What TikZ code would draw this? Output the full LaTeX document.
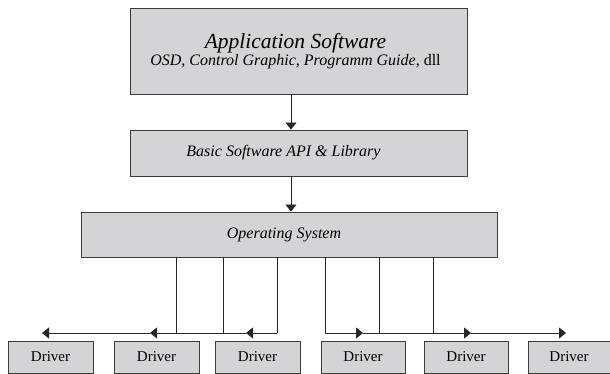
\documentclass[tikz,border=0pt]{standalone}
\usepackage{fontspec}
\setmainfont{Liberation Serif}
\usetikzlibrary{arrows.meta}
\definecolor{boxfill}{RGB}{212,212,214}
\definecolor{boxline}{RGB}{60,60,60}
\tikzset{
  layer/.style={draw=boxline, fill=boxfill, line width=0.9pt, inner sep=0pt, align=center},
  drv/.style={layer, minimum width=85pt, minimum height=32pt, font=\fontsize{15}{17}\selectfont},
  wire/.style={draw=black!85, line width=0.9pt},
  tip/.style={-{Triangle[length=7pt,width=11pt]}}
}
\begin{document}
\begin{tikzpicture}[x=1pt, y=-1pt]
  \useasboundingbox (0,0) rectangle (610,374);

  % software layers
  \node[layer, minimum width=337pt, minimum height=86pt] (app) at (298.5,51)
    {\fontsize{21.5}{24}\selectfont\itshape Application Software\hspace*{6pt}\\[0pt]
     \fontsize{16}{18}\selectfont\itshape OSD, Control Graphic, Programm Guide\upshape, dll\hspace*{6pt}};
  \node[layer, minimum width=337pt, minimum height=46pt, font=\fontsize{16}{18}\selectfont\itshape] (api) at (298.5,153)
    {Basic Software API \& Library\hspace*{30pt}};
  \node[layer, minimum width=416pt, minimum height=45pt, font=\fontsize{16}{18}\selectfont\itshape] (os) at (289,234.5)
    {Operating System\hspace*{10pt}};

  % drivers
  \node[drv] (d1) at (50.5,357) {Driver};
  \node[drv] (d2) at (156.5,357) {Driver};
  \node[drv] (d3) at (257.5,357) {Driver};
  \node[drv, minimum width=84pt] (d4) at (363,357) {Driver};
  \node[drv, minimum width=84pt] (d5) at (466,357) {Driver};
  \node[drv, minimum width=82pt] (d6) at (569,357) {Driver};

  % layer arrows
  \draw[wire, tip] (app.south -| 291,0) -- (api.north -| 291,0);
  \draw[wire, tip] (api.south -| 291,0) -- (os.north -| 291,0);

  % left bus
  \coordinate (la) at (176,333);
  \coordinate (lb) at (223,333);
  \coordinate (lc) at (277,333);
  \coordinate (lt1) at (42,333);
  \coordinate (lt2) at (150,333);
  \coordinate (lt3) at (246,333);
  \foreach \p in {la,lb,lc} \draw[wire] (os.south -| \p) -- (\p);
  \draw[wire, tip] (lc) -- (lt3);
  \draw[wire, tip] (lt3) -- (lt2);
  \draw[wire, tip] (lt2) -- (lt1);

  % right bus
  \coordinate (ra) at (325,333);
  \coordinate (rb) at (379,333);
  \coordinate (rc) at (433,333);
  \coordinate (rt1) at (363,333);
  \coordinate (rt2) at (471,333);
  \coordinate (rt3) at (566,333);
  \foreach \p in {ra,rb,rc} \draw[wire] (os.south -| \p) -- (\p);
  \draw[wire, tip] (ra) -- (rt1);
  \draw[wire, tip] (rt1) -- (rt2);
  \draw[wire, tip] (rt2) -- (rt3);
\end{tikzpicture}
\end{document}
